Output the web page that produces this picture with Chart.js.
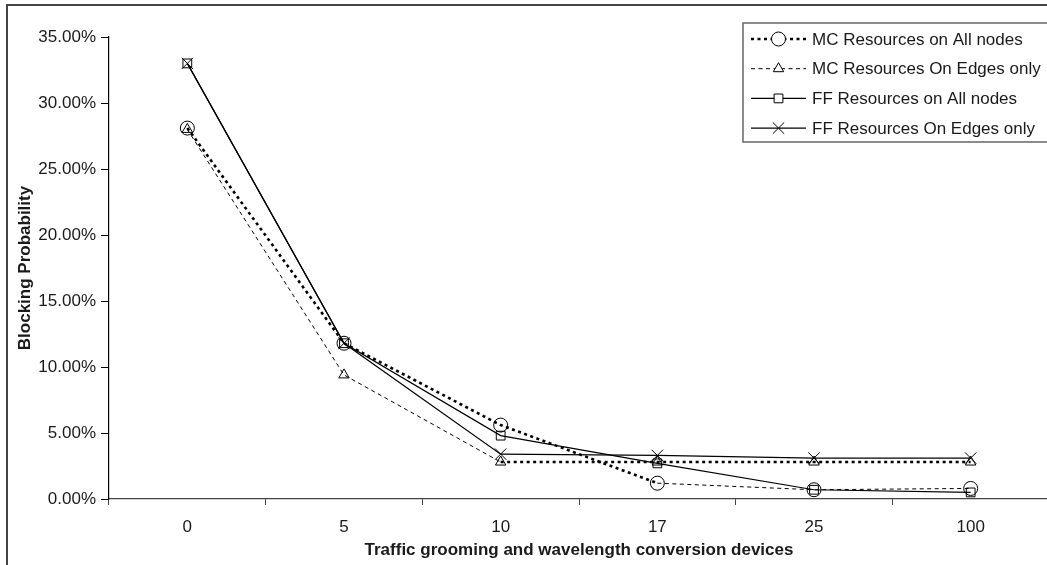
<!DOCTYPE html>
<html>
<head>
<meta charset="utf-8">
<script src="https://cdn.jsdelivr.net/npm/chart.js@4"></script>
<style>
    html, body { margin: 0; padding: 0; background: #fff; overflow: hidden; }
    #wrap { width: 1060px; height: 565px; }
</style>
</head>
<body>
<div id="wrap"><canvas id="blockingChart" width="1060" height="565"></canvas></div>
<script>
// Blocking probability vs number of grooming / conversion devices

// Data (percent)
const categories = ['0', '5', '10', '17', '25', '100'];
const mcAllNodes = [28.1, 11.8, 5.6, 1.2, 0.7, 0.8];
const mcEdgesOnly = [28.0, 9.4, 2.8, 2.8, 2.8, 2.8];
const ffAllNodes = [33.0, 11.8, 4.8, 2.7, 0.7, 0.5];
const ffEdgesOnly = [33.0, 11.8, 3.4, 3.3, 3.1, 3.1];
const seriesNames = [
    'MC Resources on All nodes',
    'MC Resources On Edges only',
    'FF Resources on All nodes',
    'FF Resources On Edges only'
];

Chart.defaults.font.family = '"Liberation Sans", Arial, sans-serif';
Chart.defaults.font.size = 17;
Chart.defaults.color = '#1a1a1a';

// line styles used in the plot and the legend
const thickDot = { width: 2.6, dash: [3, 3.5] };
const thinDash = { width: 1, dash: [4, 3.5] };

// outer frame + legend box drawn on the canvas
const frameAndLegend = {
    id: 'frameAndLegend',
    beforeDraw(chart) {
        const ctx = chart.ctx;
        ctx.save();
        ctx.strokeStyle = '#444';
        ctx.lineWidth = 2;
        ctx.beginPath();
        ctx.moveTo(7, 565);
        ctx.lineTo(7, 5);
        ctx.lineTo(1060, 5);
        ctx.stroke();
        ctx.restore();
    },
    afterDraw(chart) {
        const ctx = chart.ctx;
        const box = { x: 743, y: 23, w: 330, h: 119 };
        ctx.save();
        ctx.fillStyle = '#fff';
        ctx.fillRect(box.x, box.y, box.w, box.h);
        ctx.strokeStyle = '#666';
        ctx.lineWidth = 1.5;
        ctx.strokeRect(box.x, box.y, box.w, box.h);

        chart.data.datasets.forEach((ds, i) => {
            const y = 39 + i * 29.7;
            const x0 = 751, x1 = 806;
            ctx.strokeStyle = '#000';
            ctx.lineWidth = ds.legendLine.width;
            ctx.setLineDash(ds.legendLine.dash);
            ctx.beginPath();
            ctx.moveTo(x0, y);
            ctx.lineTo(x1, y);
            ctx.stroke();
            ctx.setLineDash([]);
            ctx.lineWidth = 1;
            ctx.fillStyle = '#fff';
            ctx.strokeStyle = '#000';
            Chart.helpers.drawPoint(ctx, {
                pointStyle: ds.pointStyle,
                radius: ds.pointRadius,
                borderWidth: 1,
                rotation: 0
            }, (x0 + x1) / 2, y);
            ctx.fillStyle = '#1a1a1a';
            ctx.font = '17px "Liberation Sans", Arial, sans-serif';
            ctx.textBaseline = 'middle';
            ctx.fillText(ds.label, 812, y + 1);
        });
        ctx.restore();
    }
};

function makeDataset(label, data, pointStyle, radius, line, segment) {
    return {
        label: label,
        data: data,
        borderColor: '#000',
        borderWidth: line.width,
        borderDash: line.dash,
        legendLine: line,
        pointStyle: pointStyle,
        pointRadius: radius,
        pointBorderColor: '#000',
        pointBackgroundColor: 'rgba(0,0,0,0)',
        pointBorderWidth: 1,
        tension: 0,
        fill: false,
        segment: segment || {}
    };
}

const ctx = document.getElementById('blockingChart');

new Chart(ctx, {
    type: 'line',
    data: {
        labels: categories,
        datasets: [
            // dotted line turns into thin dashes after 10
            makeDataset(seriesNames[0], mcAllNodes, 'circle', 7, thickDot, {
                borderWidth: c => c.p0DataIndex >= 3 ? thinDash.width : thickDot.width,
                borderDash: c => c.p0DataIndex >= 3 ? thinDash.dash : thickDot.dash
            }),
            // thin dashes turn into the heavy dotted line from 10 on
            makeDataset(seriesNames[1], mcEdgesOnly, 'triangle', 6, thinDash, {
                borderWidth: c => c.p0DataIndex >= 2 ? thickDot.width : thinDash.width,
                borderDash: c => c.p0DataIndex >= 2 ? thickDot.dash : thinDash.dash
            }),
            makeDataset(seriesNames[2], ffAllNodes, 'rect', 6.2, { width: 1.2, dash: [] }),
            makeDataset(seriesNames[3], ffEdgesOnly, 'crossRot', 8, { width: 1.2, dash: [] })
        ]
    },
    options: {
        responsive: false,
        animation: false,
        layout: {
            padding: { left: 11, top: 37, right: 11, bottom: 2 }
        },
        plugins: {
            legend: { display: false },
            tooltip: { enabled: false }
        },
        scales: {
            x: {
                offset: true,
                grid: {
                    offset: true,
                    drawOnChartArea: false,
                    drawTicks: true,
                    tickLength: 6,
                    color: '#444'
                },
                border: { color: '#444', width: 1.2 },
                ticks: { padding: 12, color: '#1a1a1a' },
                title: {
                    display: true,
                    text: 'Traffic grooming and wavelength conversion devices',
                    font: { weight: 'bold', size: 17 },
                    color: '#1a1a1a',
                    padding: { top: 0, bottom: 2 }
                },
                afterFit: s => { s.height = 64; }
            },
            y: {
                min: 0,
                max: 35,
                ticks: {
                    stepSize: 5,
                    padding: 5,
                    color: '#1a1a1a',
                    callback: v => v.toFixed(2) + '%'
                },
                grid: {
                    drawOnChartArea: false,
                    drawTicks: true,
                    tickLength: 8,
                    color: '#000'
                },
                border: { color: '#000', width: 1.2 },
                title: {
                    display: true,
                    text: 'Blocking Probability',
                    font: { weight: 'bold', size: 17 },
                    color: '#1a1a1a',
                    padding: { top: 4, bottom: 4 }
                },
                afterFit: s => { s.width = 98; }
            }
        }
    },
    plugins: [frameAndLegend]
});
</script>
</body>
</html>
